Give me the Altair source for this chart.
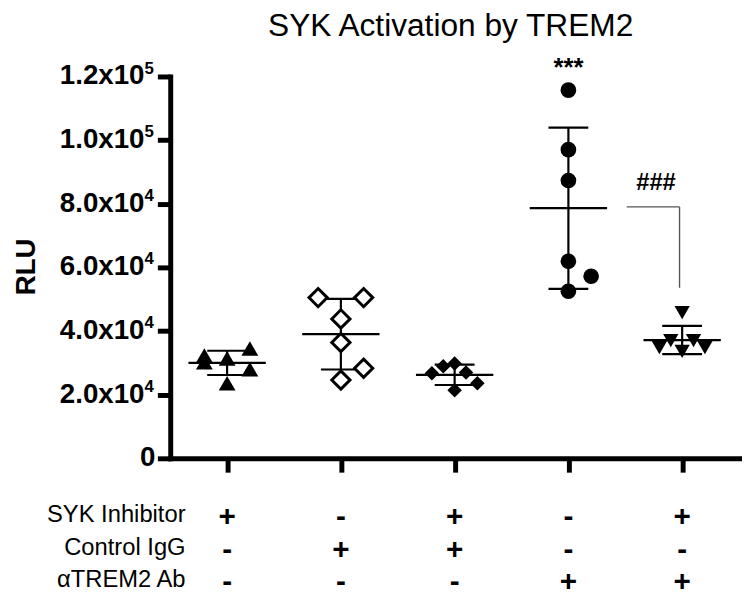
import altair as alt
import pandas as pd

FONT = "Liberation Sans"

# ---------------- data ----------------
group_ids = [1, 2, 3, 4, 5]

rlu_g1 = [32300, 30200, 31400, 34500, 28000, 23600]
rlu_g2 = [50500, 50500, 43800, 36400, 28300, 24600]
rlu_g3 = [26700, 28900, 29800, 27000, 23600, 21400]
rlu_g4 = [115700, 97000, 87300, 61900, 57200, 52500]
rlu_g5 = [45800, 34800, 37000, 33600, 37000, 34800]

# horizontal scatter slot of each point inside its group column
slot_g1 = [-2, -2, 0, 2, 2, 0]
slot_g2 = [-2, 2, 0, 0, 2, 0]
slot_g3 = [-2, -1, 0, 1, 2, 0]
slot_g4 = [0, 0, 0, 0, 2, 0]
slot_g5 = [0, -2, -1, 0, 1, 2]

y_tick_values = [0, 20000, 40000, 60000, 80000, 100000, 120000]
y_tick_mantissa = ["0", "2.0x10", "4.0x10", "6.0x10", "8.0x10", "1.0x10", "1.2x10"]
y_tick_exponent = ["", "4", "4", "4", "4", "5", "5"]

row_labels = ["SYK Inhibitor", "Control IgG", "αTREM2 Ab"]
syk_inhibitor = ["+", "-", "+", "-", "+"]
control_igg = ["-", "+", "+", "-", "-"]
atrem2_ab = ["-", "-", "-", "+", "+"]

sig_text = ["***", "###"]
sig_x = [4.0, 4.77]
sig_y = [120300, 84200]

bracket_x = [4.513, 4.977]
bracket_y = [79000, 53600]

title_text = "SYK Activation by TREM2"

# ---------------- tables ----------------
all_rlu = [rlu_g1, rlu_g2, rlu_g3, rlu_g4, rlu_g5]
all_slot = [slot_g1, slot_g2, slot_g3, slot_g4, slot_g5]
rows = []
for g, vals, slots in zip(group_ids, all_rlu, all_slot):
    for v, s in zip(vals, slots):
        rows.append({"group": g, "rlu": v, "slot": s})
df = pd.DataFrame(rows)

tick_df = pd.DataFrame({"v": y_tick_values, "m": y_tick_mantissa, "e": y_tick_exponent})

# ---------------- scales / axes ----------------
xs = alt.Scale(domain=[0.5, 5.5], nice=False, zero=False)
ys = alt.Scale(domain=[0, 120000], nice=False)

xaxis = alt.Axis(values=group_ids, labels=False, title=None, grid=False,
                 domainWidth=5, domainColor="black", domainCap="square",
                 tickWidth=5, tickColor="black", tickSize=14)

yaxis = alt.Axis(values=y_tick_values, labels=False, grid=False,
                 title="RLU", titleFont=FONT, titleFontSize=28, titleFontWeight="bold",
                 titleColor="black", titleX=-145, titleY=192, titleAlign="center",
                 titleBaseline="middle", titleAngle=270,
                 domainWidth=5, domainColor="black", domainCap="square",
                 tickWidth=5, tickColor="black", tickSize=13)


def X(f):
    return alt.X(f, scale=xs, axis=xaxis)


def Y(f):
    return alt.Y(f, scale=ys, axis=yaxis)


# ---------------- tick labels with superscripts ----------------
mant = alt.Chart(tick_df).transform_filter("datum.e != ''").mark_text(
    font=FONT, fontSize=28, fontWeight="bold", color="black",
    align="right", baseline="middle").encode(
    x=alt.value(-26), y=Y("v:Q"), text="m:N")
zero_lab = alt.Chart(tick_df).transform_filter("datum.e == ''").mark_text(
    font=FONT, fontSize=28, fontWeight="bold", color="black",
    align="right", baseline="middle").encode(
    x=alt.value(-15), y=Y("v:Q"), text="m:N")
expo = alt.Chart(tick_df).transform_filter("datum.e != ''").mark_text(
    font=FONT, fontSize=17, fontWeight="bold", color="black",
    align="left", baseline="middle", dy=-8).encode(
    x=alt.value(-26), y=Y("v:Q"), text="e:N")

# ---------------- mean / SD ----------------
stats = alt.Chart(df).transform_aggregate(
    mean="mean(rlu)", sd="stdev(rlu)", groupby=["group"]
).transform_calculate(
    lo="datum.mean - datum.sd", hi="datum.mean + datum.sd",
    mx1="datum.group - 0.34", mx2="datum.group + 0.34",
    cx1="datum.group - 0.175", cx2="datum.group + 0.175",
)
mean_line = stats.mark_rule(color="black", strokeWidth=2.2).encode(
    x=X("mx1:Q"), x2="mx2:Q", y=Y("mean:Q"))
sd_line = stats.mark_rule(color="black", strokeWidth=2.2).encode(
    x=X("group:Q"), y=Y("lo:Q"), y2="hi:Q")
cap_lo = stats.mark_rule(color="black", strokeWidth=2.2).encode(
    x=X("cx1:Q"), x2="cx2:Q", y=Y("lo:Q"))
cap_hi = stats.mark_rule(color="black", strokeWidth=2.2).encode(
    x=X("cx1:Q"), x2="cx2:Q", y=Y("hi:Q"))

# ---------------- points ----------------
styles = {
    1: dict(shape="triangle-up", size=289, fill="black", strokeWidth=0),
    2: dict(shape="diamond", size=340, fill="white", strokeWidth=3),
    3: dict(shape="diamond", size=215, fill="black", strokeWidth=0),
    4: dict(shape="circle", size=250, fill="black", strokeWidth=0),
    5: dict(shape="triangle-down", size=240, fill="black", strokeWidth=0),
}
point_layers = []
for g in group_ids:
    st = styles[g]
    point_layers.append(
        alt.Chart(df).transform_filter(f"datum.group == {g}")
        .transform_calculate(xpos="datum.group + datum.slot * 0.1")
        .mark_point(shape=st["shape"], size=st["size"], fill=st["fill"],
                    stroke="black", strokeWidth=st["strokeWidth"],
                    opacity=1, fillOpacity=1)
        .encode(x=X("xpos:Q"), y=Y("rlu:Q"))
    )

# ---------------- significance ----------------
sig_df = pd.DataFrame({"t": sig_text, "x": sig_x, "y": sig_y})
stars = alt.Chart(sig_df).transform_filter("datum.t == '***'").mark_text(
    font=FONT, fontSize=26, fontWeight="bold", color="black",
    align="center", baseline="alphabetic").encode(x=X("x:Q"), y=Y("y:Q"), text="t:N")
hashes = alt.Chart(sig_df).transform_filter("datum.t == '###'").mark_text(
    font=FONT, fontSize=24, fontWeight="bold", color="black",
    align="center", baseline="alphabetic").encode(x=X("x:Q"), y=Y("y:Q"), text="t:N")

br_df = pd.DataFrame({"x1": [bracket_x[0]], "x2": [bracket_x[1]],
                      "y1": [bracket_y[0]], "y2": [bracket_y[1]]})
br_h = alt.Chart(br_df).mark_rule(color="#555555", strokeWidth=1.4).encode(
    x=X("x1:Q"), x2="x2:Q", y=Y("y1:Q"))
br_v = alt.Chart(br_df).mark_rule(color="#555555", strokeWidth=1.4).encode(
    x=X("x2:Q"), y=Y("y1:Q"), y2="y2:Q")

# ---------------- treatment table ----------------
row_px = [445, 479, 511]
table_layers = []
for lab, signs, ypx in zip(row_labels, [syk_inhibitor, control_igg, atrem2_ab], row_px):
    sdf = pd.DataFrame({"group": group_ids, "sign": signs})
    table_layers.append(
        alt.Chart(sdf).mark_text(font=FONT, fontSize=30, fontWeight="bold",
                                 color="black", align="center", baseline="middle")
        .encode(x=X("group:Q"), y=alt.value(ypx), text="sign:N"))
    ldf = pd.DataFrame({"label": [lab]})
    table_layers.append(
        alt.Chart(ldf).mark_text(font=FONT, fontSize=24, color="black",
                                 align="right", baseline="middle")
        .encode(x=alt.value(15.5), y=alt.value(ypx - 2), text="label:N"))

# ---------------- title ----------------
title_layer = alt.Chart(pd.DataFrame({"t": [title_text]})).mark_text(
    font=FONT, fontSize=32, color="black", align="center", baseline="alphabetic"
).encode(x=alt.value(283.5), y=alt.value(-41), text="t:N")

chart = alt.layer(
    mean_line, sd_line, cap_lo, cap_hi, *point_layers,
    br_h, br_v, stars, hashes, mant, zero_lab, expo, title_layer, *table_layers
).properties(
    width=575, height=386,
    autosize=alt.AutoSizeParams(type="none"),
    padding={"left": 164, "top": 66, "right": 3, "bottom": 138},
).configure_view(stroke=None)

chart.save("out.html", embed_options={"renderer": "svg", "actions": False})
